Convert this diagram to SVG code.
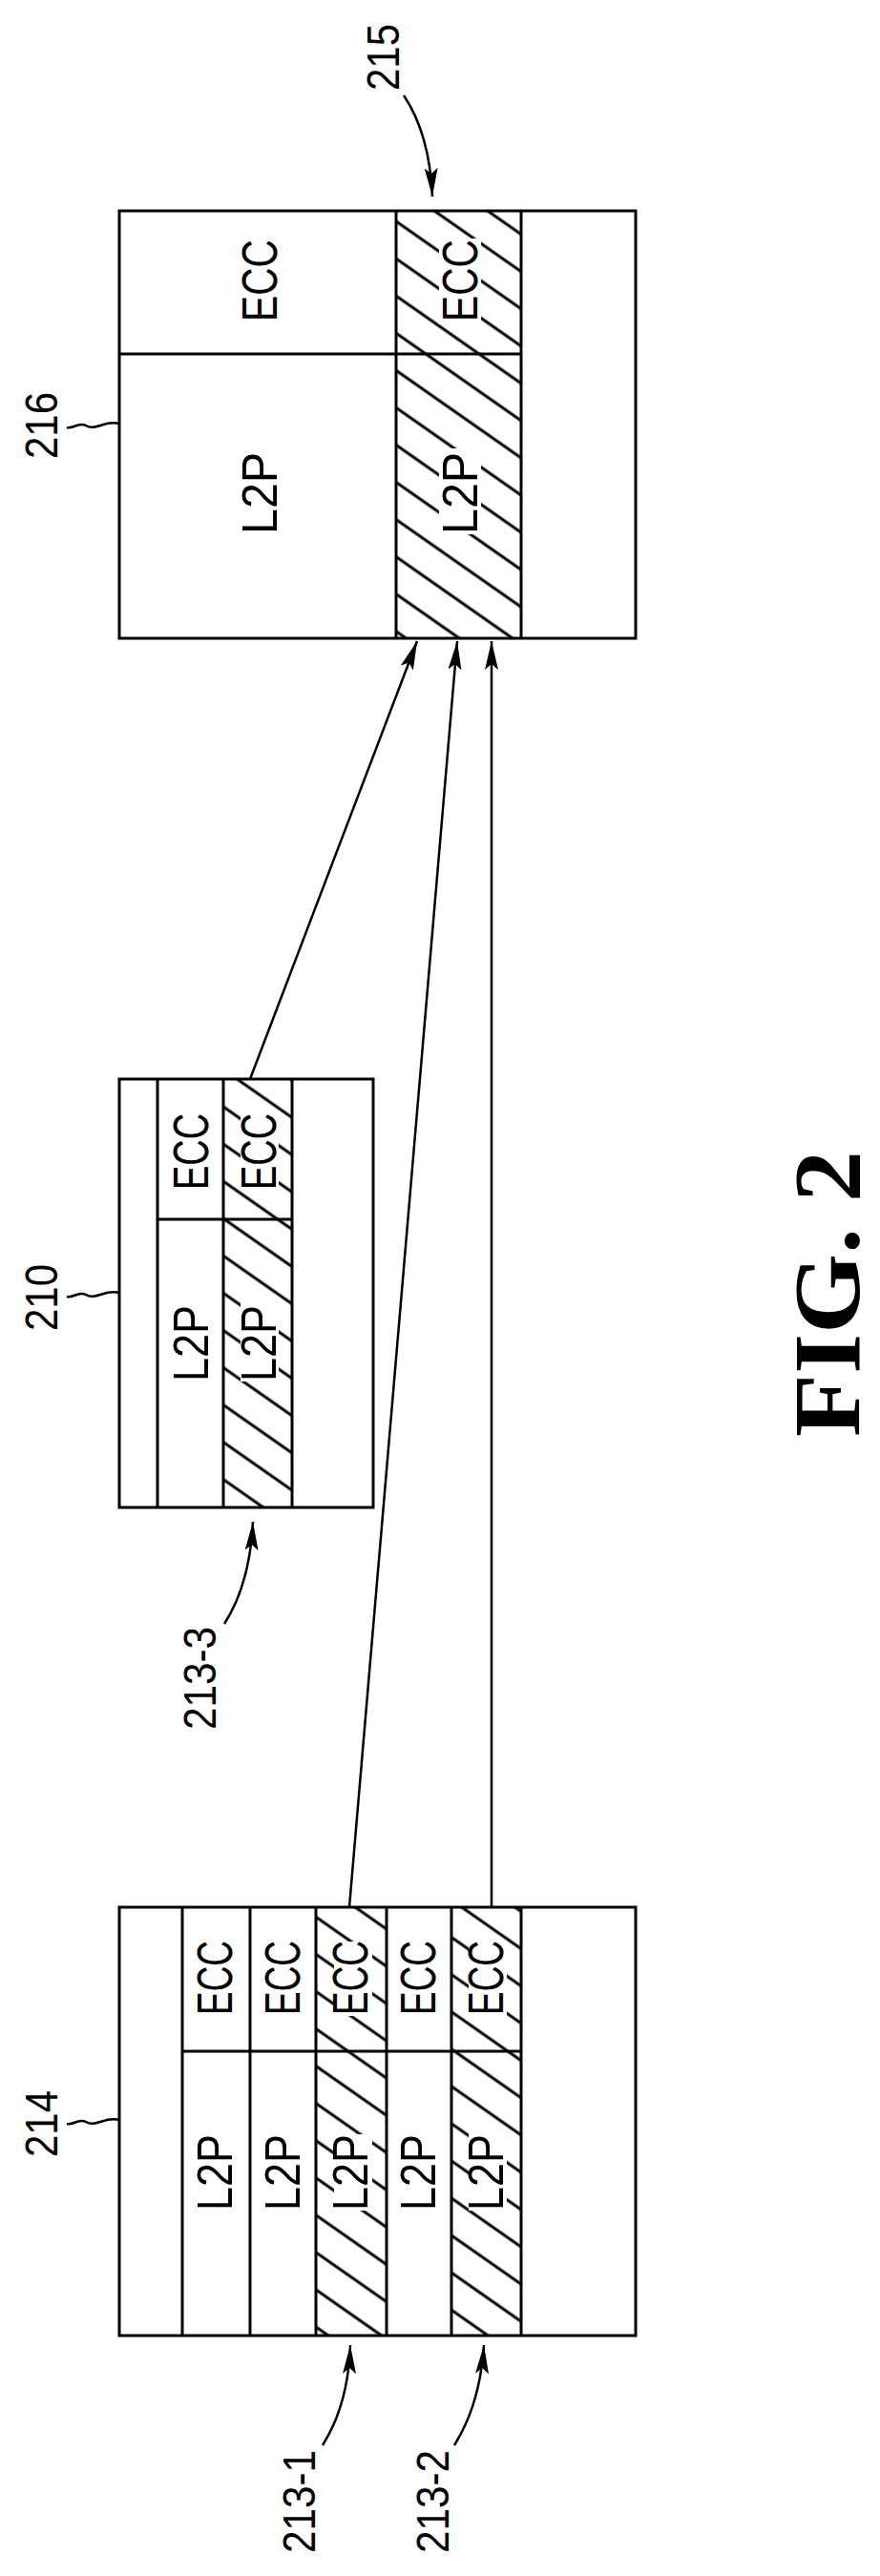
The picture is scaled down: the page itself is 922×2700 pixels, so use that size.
<svg xmlns="http://www.w3.org/2000/svg" width="922" height="2700" viewBox="0 0 922 2700">
<defs>
<style>
.b{fill:none;stroke:#000;stroke-width:3}
.l{fill:none;stroke:#000;stroke-width:2.5}
.t{font-family:"Liberation Sans",Arial,sans-serif;font-size:52px;fill:#000}
.n{font-family:"Liberation Sans",Arial,sans-serif;font-size:48px;fill:#000}
.bg{fill:#fff}
</style>
<pattern id="h" patternUnits="userSpaceOnUse" width="32" height="32" patternTransform="rotate(35)">
<rect width="32" height="32" fill="#fff"/>
<line x1="0" y1="16" x2="32" y2="16" stroke="#000" stroke-width="3"/>
</pattern>
<marker id="a" viewBox="0 0 30 14" refX="30" refY="7" markerWidth="30" markerHeight="14" markerUnits="userSpaceOnUse" orient="auto">
<path d="M0,0 L30,7 L0,14 L6,7 Z" fill="#000"/>
</marker>
</defs>

<g id="connectors">
<path class="l" d="M262,1131 L437,672" marker-end="url(#a)"/>
<path class="l" d="M366,1999 L479,672" marker-end="url(#a)"/>
<path class="l" d="M515,1999 L515,672" marker-end="url(#a)"/>
<path class="l" d="M423,100 Q450,140 453,206" marker-end="url(#a)"/>
<path class="l" d="M235,1702 Q262,1660 265,1595" marker-end="url(#a)"/>
<path class="l" d="M338,2563 Q365,2520 367,2458" marker-end="url(#a)"/>
<path class="l" d="M476,2563 Q503,2520 507,2458" marker-end="url(#a)"/>
</g>

<g id="node216">
<rect x="415" y="221" width="131" height="448" fill="url(#h)"/>
<rect class="bg" x="460" y="250" width="44" height="90"/>
<rect class="bg" x="460" y="470" width="44" height="90"/>
<rect class="b" x="125" y="221" width="541" height="448"/>
<line class="b" x1="415" y1="221" x2="415" y2="669"/>
<line class="b" x1="546" y1="221" x2="546" y2="669"/>
<line class="b" x1="125" y1="371" x2="546" y2="371"/>
<text class="t" transform="translate(290,294) rotate(-90)" text-anchor="middle" textLength="86" lengthAdjust="spacingAndGlyphs">ECC</text>
<text class="t" transform="translate(290,517) rotate(-90)" text-anchor="middle" textLength="86" lengthAdjust="spacingAndGlyphs">L2P</text>
<text class="t" transform="translate(500,294) rotate(-90)" text-anchor="middle" textLength="86" lengthAdjust="spacingAndGlyphs">ECC</text>
<text class="t" transform="translate(500,517) rotate(-90)" text-anchor="middle" textLength="86" lengthAdjust="spacingAndGlyphs">L2P</text>
<path class="l" d="M125,444 C110,440 100,452 90,446 C82,442 76,450 70,448"/>
<text class="n" transform="translate(60,446) rotate(-90)" text-anchor="middle" textLength="70" lengthAdjust="spacingAndGlyphs">216</text>
<text class="n" transform="translate(418,60) rotate(-90)" text-anchor="middle" textLength="70" lengthAdjust="spacingAndGlyphs">215</text>
</g>

<g id="node210">
<rect x="234" y="1131" width="72" height="449" fill="url(#h)"/>
<rect class="bg" x="252" y="1165" width="40" height="82"/>
<rect class="bg" x="252" y="1366" width="40" height="82"/>
<rect class="b" x="125" y="1131" width="266" height="449"/>
<line class="b" x1="165" y1="1131" x2="165" y2="1580"/>
<line class="b" x1="234" y1="1131" x2="234" y2="1580"/>
<line class="b" x1="306" y1="1131" x2="306" y2="1580"/>
<line class="b" x1="165" y1="1278" x2="306" y2="1278"/>
<text class="t" transform="translate(218,1207) rotate(-90)" text-anchor="middle" textLength="80" lengthAdjust="spacingAndGlyphs">ECC</text>
<text class="t" transform="translate(218,1408) rotate(-90)" text-anchor="middle" textLength="80" lengthAdjust="spacingAndGlyphs">L2P</text>
<text class="t" transform="translate(289,1207) rotate(-90)" text-anchor="middle" textLength="80" lengthAdjust="spacingAndGlyphs">ECC</text>
<text class="t" transform="translate(289,1408) rotate(-90)" text-anchor="middle" textLength="80" lengthAdjust="spacingAndGlyphs">L2P</text>
<path class="l" d="M125,1355 C110,1351 100,1363 90,1357 C82,1353 76,1361 70,1359"/>
<text class="n" transform="translate(60,1360) rotate(-90)" text-anchor="middle" textLength="70" lengthAdjust="spacingAndGlyphs">210</text>
<text class="n" transform="translate(226,1759) rotate(-90)" text-anchor="middle" textLength="108" lengthAdjust="spacingAndGlyphs">213-3</text>
</g>

<g id="node214">
<rect x="331" y="1999" width="74" height="449" fill="url(#h)"/>
<rect x="473" y="1999" width="73" height="449" fill="url(#h)"/>
<rect class="bg" x="350" y="2035" width="40" height="78"/>
<rect class="bg" x="350" y="2237" width="40" height="80"/>
<rect class="bg" x="491" y="2035" width="40" height="78"/>
<rect class="bg" x="491" y="2237" width="40" height="80"/>
<rect class="b" x="125" y="1999" width="541" height="449"/>
<line class="b" x1="191" y1="1999" x2="191" y2="2448"/>
<line class="b" x1="262" y1="1999" x2="262" y2="2448"/>
<line class="b" x1="331" y1="1999" x2="331" y2="2448"/>
<line class="b" x1="405" y1="1999" x2="405" y2="2448"/>
<line class="b" x1="473" y1="1999" x2="473" y2="2448"/>
<line class="b" x1="546" y1="1999" x2="546" y2="2448"/>
<line class="b" x1="191" y1="2150" x2="546" y2="2150"/>
<text class="t" transform="translate(243,2073) rotate(-90)" text-anchor="middle" textLength="78" lengthAdjust="spacingAndGlyphs">ECC</text>
<text class="t" transform="translate(314,2073) rotate(-90)" text-anchor="middle" textLength="78" lengthAdjust="spacingAndGlyphs">ECC</text>
<text class="t" transform="translate(385,2073) rotate(-90)" text-anchor="middle" textLength="78" lengthAdjust="spacingAndGlyphs">ECC</text>
<text class="t" transform="translate(456,2073) rotate(-90)" text-anchor="middle" textLength="78" lengthAdjust="spacingAndGlyphs">ECC</text>
<text class="t" transform="translate(527,2073) rotate(-90)" text-anchor="middle" textLength="78" lengthAdjust="spacingAndGlyphs">ECC</text>
<text class="t" transform="translate(243,2277) rotate(-90)" text-anchor="middle" textLength="80" lengthAdjust="spacingAndGlyphs">L2P</text>
<text class="t" transform="translate(314,2277) rotate(-90)" text-anchor="middle" textLength="80" lengthAdjust="spacingAndGlyphs">L2P</text>
<text class="t" transform="translate(385,2277) rotate(-90)" text-anchor="middle" textLength="80" lengthAdjust="spacingAndGlyphs">L2P</text>
<text class="t" transform="translate(456,2277) rotate(-90)" text-anchor="middle" textLength="80" lengthAdjust="spacingAndGlyphs">L2P</text>
<text class="t" transform="translate(527,2277) rotate(-90)" text-anchor="middle" textLength="80" lengthAdjust="spacingAndGlyphs">L2P</text>
<path class="l" d="M125,2222 C110,2218 100,2230 90,2224 C82,2220 76,2228 70,2226"/>
<text class="n" transform="translate(60,2226) rotate(-90)" text-anchor="middle" textLength="70" lengthAdjust="spacingAndGlyphs">214</text>
<text class="n" transform="translate(330,2622) rotate(-90)" text-anchor="middle" textLength="108" lengthAdjust="spacingAndGlyphs">213-1</text>
<text class="n" transform="translate(470,2622) rotate(-90)" text-anchor="middle" textLength="108" lengthAdjust="spacingAndGlyphs">213-2</text>
</g>

<text transform="translate(900,1356) rotate(-90)" text-anchor="middle" font-family="'Liberation Serif',serif" font-weight="bold" font-size="100" textLength="300" lengthAdjust="spacingAndGlyphs">FIG. 2</text>
</svg>
